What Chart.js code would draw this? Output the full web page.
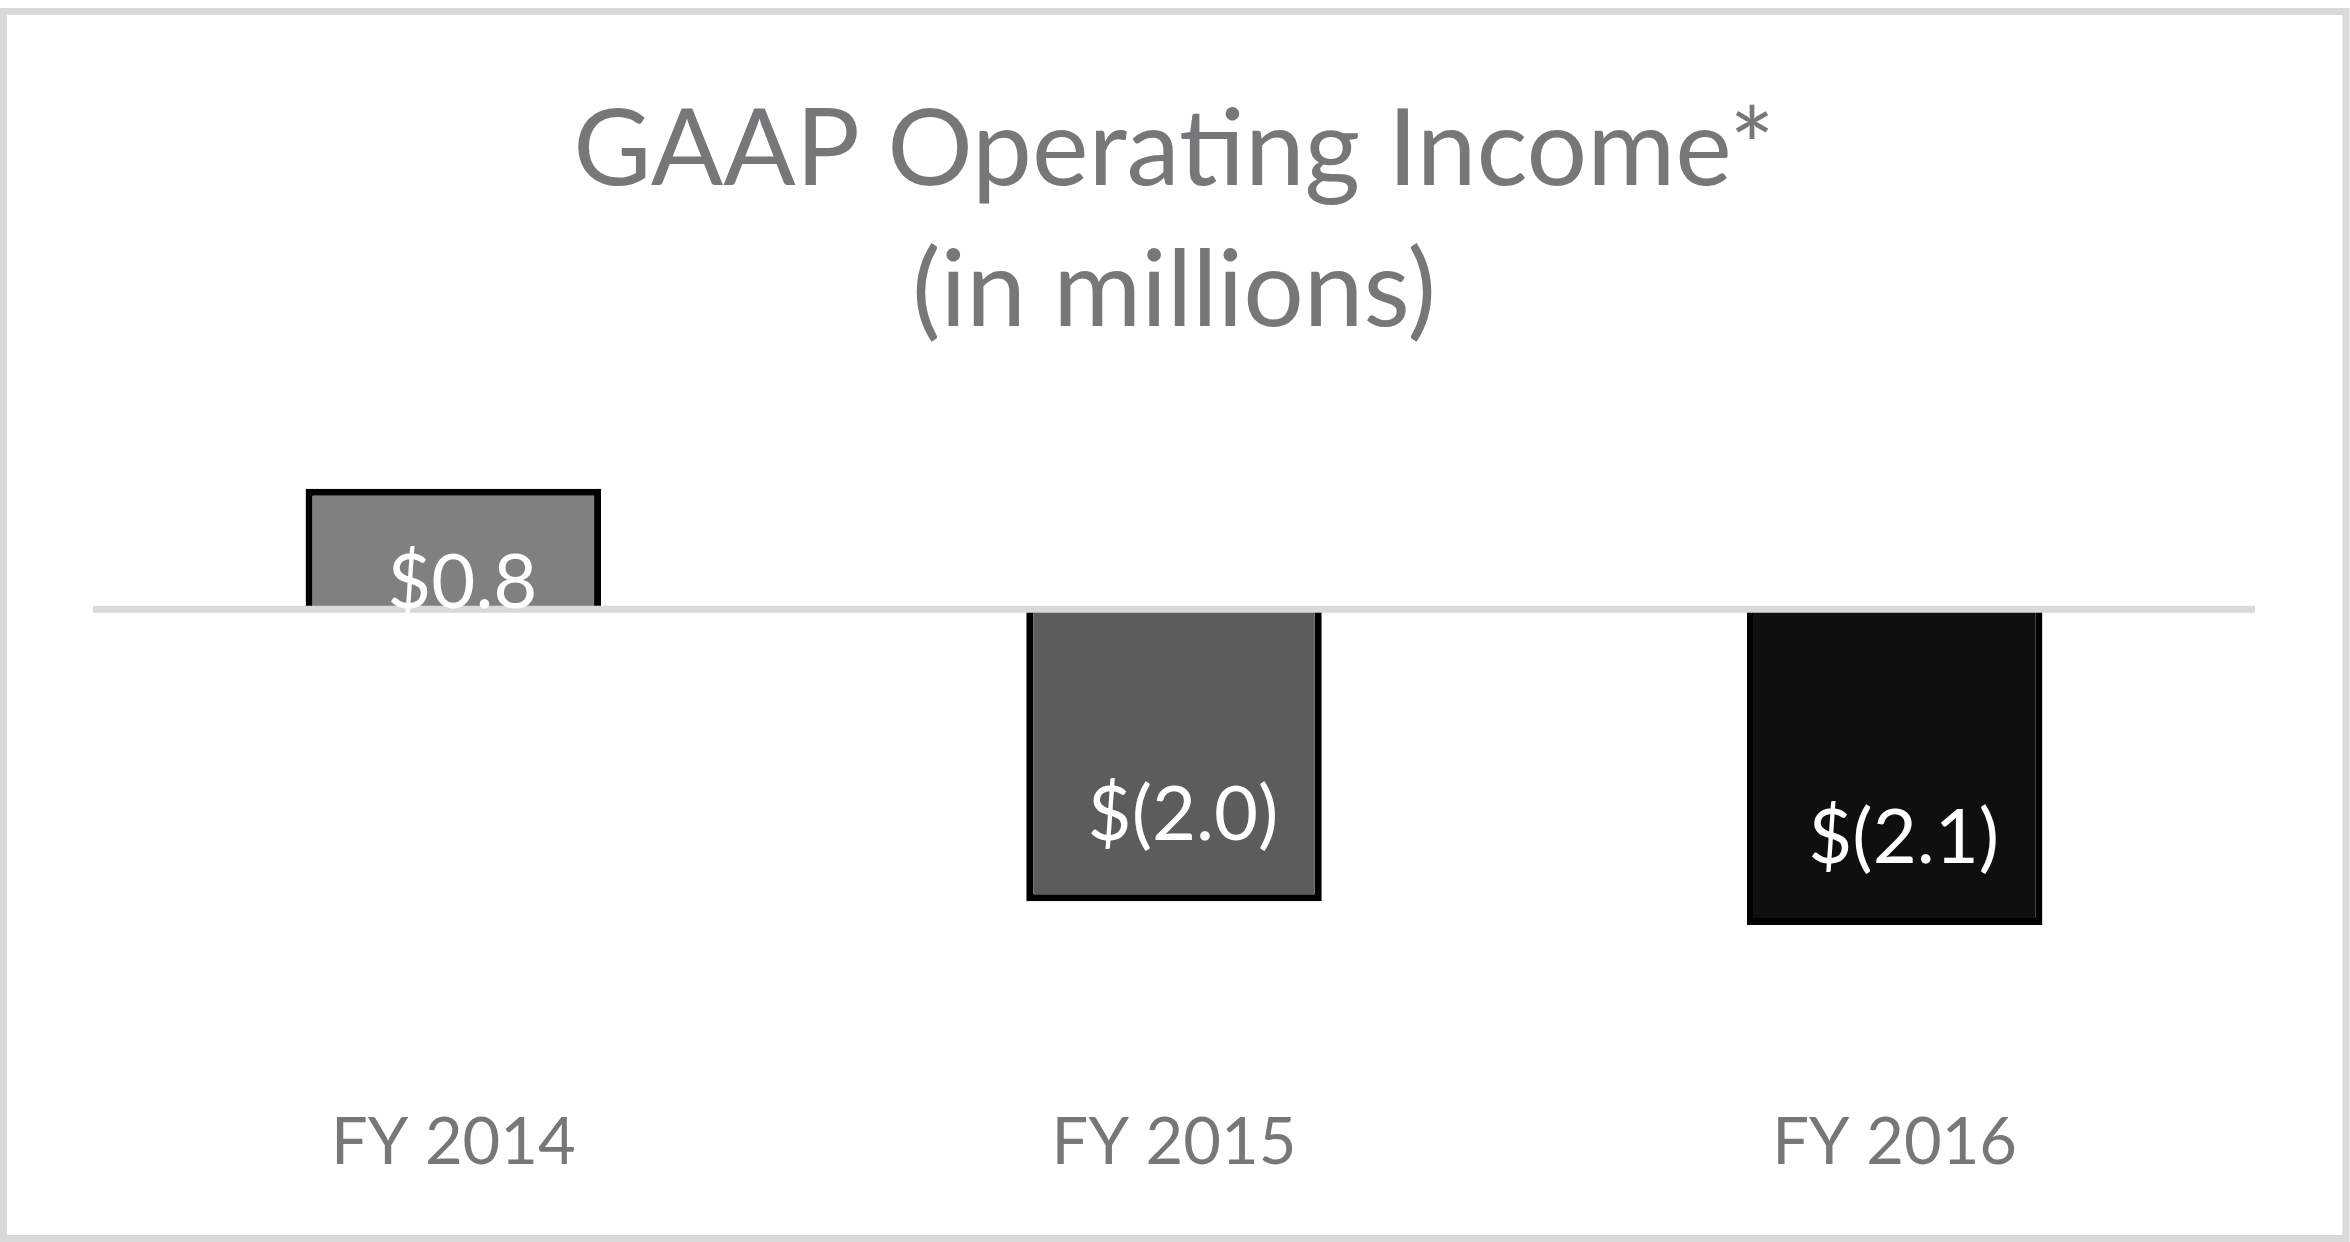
<!DOCTYPE html>
<html>
<head>
<meta charset="utf-8">
<script src="https://cdn.jsdelivr.net/npm/chart.js@4/dist/chart.umd.min.js"></script>
<style>
  html, body { margin: 0; padding: 0; background: #ffffff; }
  #wrap { position: absolute; left: 0; top: 0; width: 2350px; height: 1242px; }
</style>
</head>
<body>
<div id="wrap"><canvas id="chart" width="2350" height="1242"></canvas></div>
<script>
// values in $ millions
var categories = ['FY 2014', 'FY 2015', 'FY 2016'];
var income = [0.81, -1.96, -2.12];
var barColors = ['#7f807f', '#5b5d5b', '#0e100f'];
var titleLines = ['GAAP Operating Income*', '(in millions)'];

var textGray = '#767779';

function money(v) {
    if (v < 0) return '$(' + Math.abs(v).toFixed(1) + ')';
    return '$' + v.toFixed(1);
}

// outer frame of the picture
var framePlugin = {
    id: 'frame',
    beforeDraw: function(chart) {
        var ctx = chart.ctx;
        ctx.save();
        ctx.fillStyle = '#ffffff';
        ctx.fillRect(0, 0, chart.width, chart.height);
        ctx.strokeStyle = '#d9d9d9';
        ctx.lineWidth = 7;
        ctx.strokeRect(3.5, 11.5, chart.width - 7.5, chart.height - 15);
        ctx.restore();
    }
};

// zero line over the bars, then the value labels on top
var zeroAndLabels = {
    id: 'zeroAndLabels',
    afterDatasetsDraw: function(chart) {
        var ctx = chart.ctx;
        var y0 = chart.scales.y.getPixelForValue(0);
        ctx.save();
        ctx.strokeStyle = '#d9d9d9';
        ctx.lineWidth = 7;
        ctx.beginPath();
        ctx.moveTo(chart.chartArea.left, y0);
        ctx.lineTo(chart.chartArea.right, y0);
        ctx.stroke();

        var size = 76;
        ctx.font = size + 'px Lato';
        ctx.fillStyle = '#ffffff';
        ctx.textAlign = 'center';
        ctx.textBaseline = 'alphabetic';
        var meta = chart.getDatasetMeta(0);
        meta.data.forEach(function(bar, i) {
            var v = income[i];
            var capMid = size * 0.36;
            var y = v >= 0 ? bar.y + 92 + capMid : bar.y - 89 + capMid;
            ctx.fillText(money(v), bar.x + 9, y);
        });
        ctx.restore();
    }
};

new Chart(document.getElementById('chart').getContext('2d'), {
    type: 'bar',
    data: {
        labels: categories,
        datasets: [{
            label: 'GAAP Operating Income',
            data: income,
            backgroundColor: barColors,
            borderColor: '#000000',
            borderWidth: 7,
            borderSkipped: 'start',
            barPercentage: 0.41,
            categoryPercentage: 1.0
        }]
    },
    options: {
        responsive: false,
        animation: false,
        layout: { padding: { left: 93, right: 95, top: 0, bottom: 12 } },
        plugins: {
            legend: { display: false },
            tooltip: { enabled: false },
            title: {
                display: true,
                text: titleLines,
                color: textGray,
                font: { family: 'Lato', size: 107, weight: 'normal', lineHeight: 1.32 },
                padding: { top: 80, bottom: 98 }
            }
        },
        scales: {
            x: {
                grid: { display: false, drawTicks: false },
                border: { display: false },
                ticks: {
                    color: textGray,
                    font: { family: 'Lato', size: 65 },
                    padding: 48
                }
            },
            y: {
                display: false,
                min: -3,
                max: 1
            }
        }
    },
    plugins: [framePlugin, zeroAndLabels]
});
</script>
</body>
</html>
